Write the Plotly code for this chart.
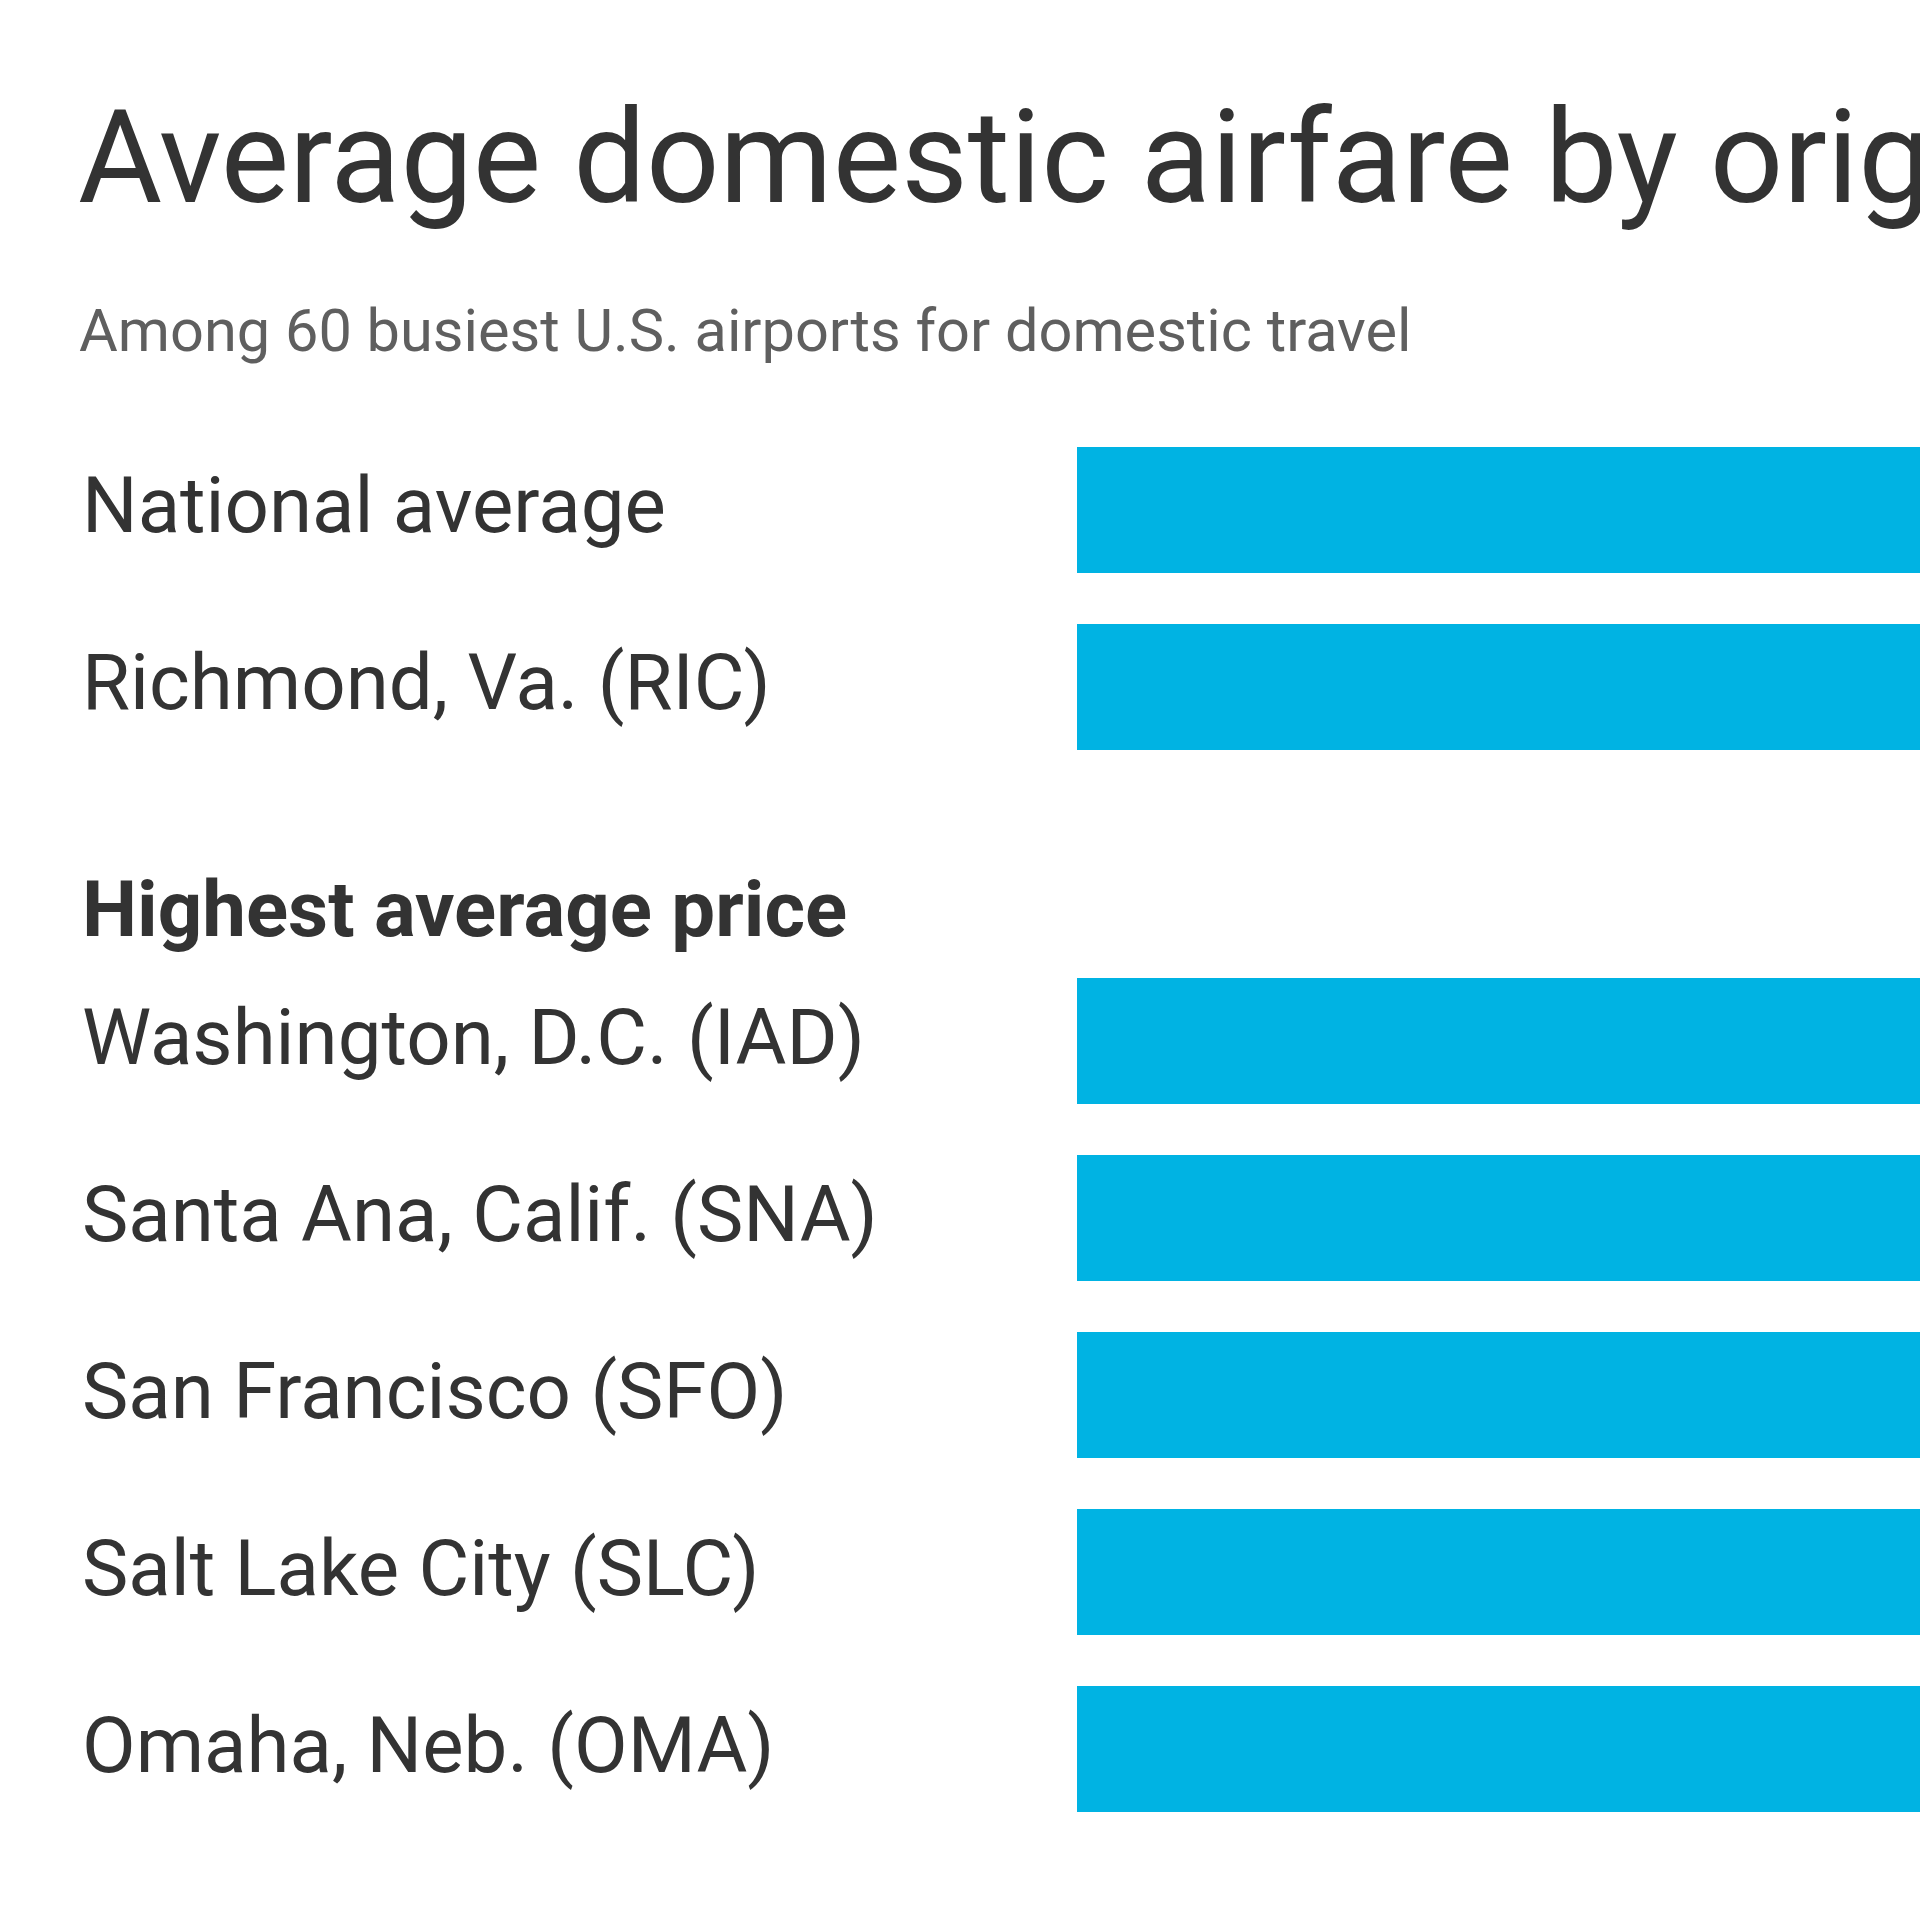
import plotly.graph_objects as go

# ---- data ----
categories = [
    "National average",
    "Richmond, Va. (RIC)",
    "Washington, D.C. (IAD)",
    "Santa Ana, Calif. (SNA)",
    "San Francisco (SFO)",
    "Salt Lake City (SLC)",
    "Omaha, Neb. (OMA)",
]
# Bars run past the visible edge in the reference; values are estimates.
fares = [382, 418, 528, 486, 480, 470, 455]
spacer = " "
slot_order = [categories[0], categories[1], spacer] + categories[2:]
section_label = "Highest average price"
title_text = "Average domestic airfare by origin airport"
subtitle_text = "Among 60 busiest U.S. airports for domestic travel"

W, H = 1920, 1920
BAR = "#00B3E3"
TEXT = "#333333"
FONT = "Roboto"


def py(v):
    """page y (px from top) -> paper fraction"""
    return 1 - v / H


def px(v):
    return v / W


fig = go.Figure(
    go.Bar(
        x=fares,
        y=categories,
        orientation="h",
        marker=dict(color=BAR, line=dict(width=0)),
        width=0.712,
        hoverinfo="skip",
    )
)

top_px, bot_px = 421.5, 1837.5
fig.update_layout(
    width=W,
    height=H,
    margin=dict(l=0, r=0, t=0, b=0),
    paper_bgcolor="white",
    plot_bgcolor="white",
    showlegend=False,
    font=dict(family=FONT, color=TEXT),
    xaxis=dict(
        domain=[px(1077), 1],
        range=[0, 340],
        visible=False,
        fixedrange=True,
    ),
    yaxis=dict(
        type="category",
        categoryorder="array",
        categoryarray=slot_order,
        range=[len(slot_order) - 0.5, -0.5],
        domain=[py(bot_px), py(top_px)],
        visible=False,
        fixedrange=True,
    ),
)

ann = []
ann.append(dict(
    text=title_text, xref="paper", yref="paper", x=px(76), y=py(158),
    xanchor="left", yanchor="middle", showarrow=False,
    font=dict(size=129, color=TEXT, family=FONT),
))
ann.append(dict(
    text=subtitle_text, xref="paper", yref="paper", x=px(77), y=py(331),
    xanchor="left", yanchor="middle", showarrow=False,
    font=dict(size=59.5, color="#5f5f5f", family=FONT),
))
for c in categories:
    ann.append(dict(
        text=c, xref="paper", yref="y", x=px(80), y=c,
        xanchor="left", yanchor="middle", showarrow=False, yshift=4,
        font=dict(size=78, color=TEXT, family=FONT),
    ))
ann.append(dict(
    text="<b>" + section_label + "</b>", xref="paper", yref="y", x=px(80), y=spacer,
    xanchor="left", yanchor="middle", showarrow=False, yshift=-46,
    font=dict(size=78, color=TEXT, family=FONT),
))
fig.update_layout(annotations=ann)

fig.write_html(
    "out.html",
    config={"displayModeBar": False},
    post_script="document.body.style.margin='0';document.body.style.overflow='hidden';",
)
